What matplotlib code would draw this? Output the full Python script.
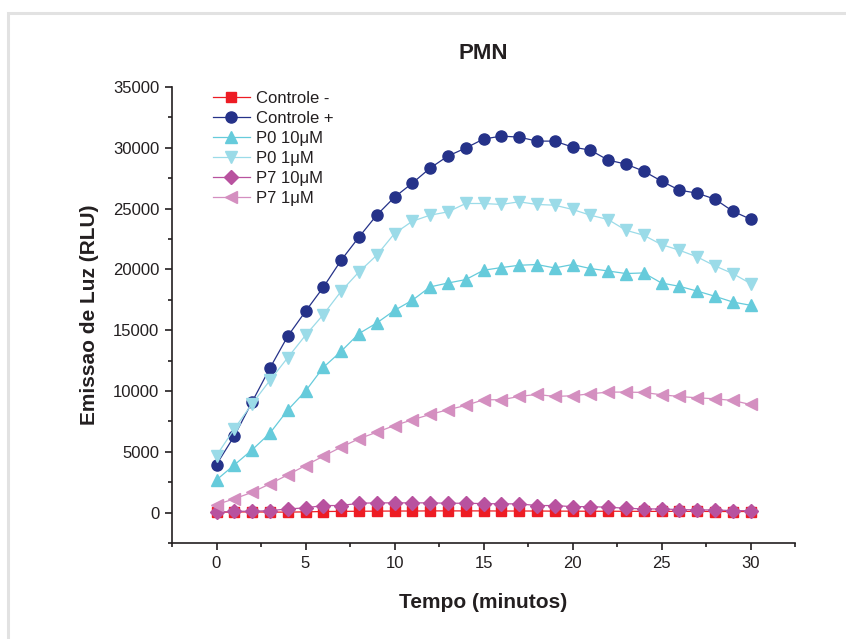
import matplotlib
matplotlib.use("Agg")
import matplotlib.pyplot as plt
from matplotlib.patches import Rectangle
from matplotlib.ticker import MultipleLocator

plt.rcParams['font.family'] = ['Liberation Sans', 'DejaVu Sans']

tempo = list(range(31))

controle_neg = [30, 50, 60, 40, 40, 60, 90, 100, 110, 120, 130, 130, 140, 140, 140,
                140, 130, 130, 130, 120, 120, 110, 110, 110, 100, 100, 100, 100, 90, 90, 90]
controle_pos = [3950, 6300, 9100, 11880, 14500, 16550, 18530, 20750, 22650, 24460,
                25940, 27090, 28330, 29320, 29980, 30720, 30960, 30880, 30550, 30550,
                30060, 29810, 28990, 28660, 28080, 27260, 26520, 26270, 25780, 24790, 24130]
p0_10 = [2690, 3920, 5160, 6530, 8430, 9990, 11940, 13260, 14720, 15590,
         16630, 17460, 18560, 18880, 19160, 19930, 20150, 20340, 20400, 20120,
         20400, 20070, 19870, 19660, 19710, 18880, 18610, 18220, 17790, 17320, 17050]
p0_1 = [4690, 6890, 8950, 10870, 12740, 14580, 16280, 18200, 19790, 21160,
        22950, 23960, 24460, 24730, 25420, 25420, 25340, 25560, 25340, 25280,
        24930, 24460, 24100, 23220, 22810, 22040, 21580, 21030, 20290, 19660, 18840]
p7_10 = [20, 110, 110, 160, 300, 390, 580, 580, 770, 800, 800, 800, 800, 770, 770,
         740, 720, 720, 580, 580, 490, 490, 440, 360, 300, 300, 250, 220, 220, 160, 160]
p7_1 = [660, 1130, 1670, 2360, 3100, 3870, 4640, 5380, 6070, 6610,
        7160, 7630, 8070, 8460, 8810, 9280, 9280, 9550, 9720, 9550,
        9610, 9770, 9910, 9910, 9880, 9690, 9550, 9440, 9360, 9220, 8890]

fig = plt.figure(figsize=(8.46, 6.39), dpi=100)
fig.patches.append(Rectangle((8 / 846, -0.1), 1.2, 1 - 13 / 639 + 0.1, transform=fig.transFigure,
                             fill=False, edgecolor='#e2e2e2', linewidth=2.2))
ax = fig.add_axes([172 / 846, 96 / 639, 623 / 846, 456 / 639])

# desenha as series
ax.plot(tempo, controle_neg, color='#ed1c24', marker='s', ms=6.5, lw=0.9, label='Controle -')
ax.plot(tempo, controle_pos, color='#253289', marker='o', ms=8, lw=0.9, label='Controle +')
ax.plot(tempo, p0_10, color='#66cbdb', marker='^', ms=9, lw=0.9, label='P0 10\u03bcM')
ax.plot(tempo, p0_1, color='#9bdbe8', marker='v', ms=9, lw=0.9, label='P0 1\u03bcM')
ax.plot(tempo, p7_10, color='#b8529f', marker='D', ms=7, lw=0.9, label='P7 10\u03bcM')
ax.plot(tempo, p7_1, color='#d48fc0', marker='<', ms=9, lw=0.9, label='P7 1\u03bcM')

ax.set_xlim(-2.5, 32.5)
ax.set_ylim(-2500, 35000)
ax.xaxis.set_major_locator(MultipleLocator(5))
ax.xaxis.set_minor_locator(MultipleLocator(2.5))
ax.yaxis.set_major_locator(MultipleLocator(5000))
ax.yaxis.set_minor_locator(MultipleLocator(2500))
ax.set_yticks(range(0, 35001, 5000))

for s in ['top', 'right']:
    ax.spines[s].set_visible(False)
for s in ['left', 'bottom']:
    ax.spines[s].set_linewidth(1.2)
    ax.spines[s].set_color('#231f20')
ax.tick_params(which='major', direction='out', length=5, width=1.2, color='#231f20',
               labelsize=12, labelcolor='#231f20', pad=4)
ax.tick_params(which='minor', direction='out', length=3, width=1.2, color='#231f20')

ax.set_title('PMN', fontsize=16, fontweight='bold', color='#231f20', pad=20)
ax.set_xlabel('Tempo (minutos)', fontsize=15, fontweight='bold', color='#231f20', labelpad=16)
ax.set_ylabel('Emissao de Luz (RLU)', fontsize=15, fontweight='bold', color='#231f20', labelpad=10)

ax.legend(loc='upper left', bbox_to_anchor=(41 / 623, 0.992), frameon=False, fontsize=12,
          labelspacing=0.3, handlelength=2.2, handletextpad=0.35, borderpad=0, borderaxespad=0,
          labelcolor='#231f20')

fig.savefig('out.png', dpi=100)
